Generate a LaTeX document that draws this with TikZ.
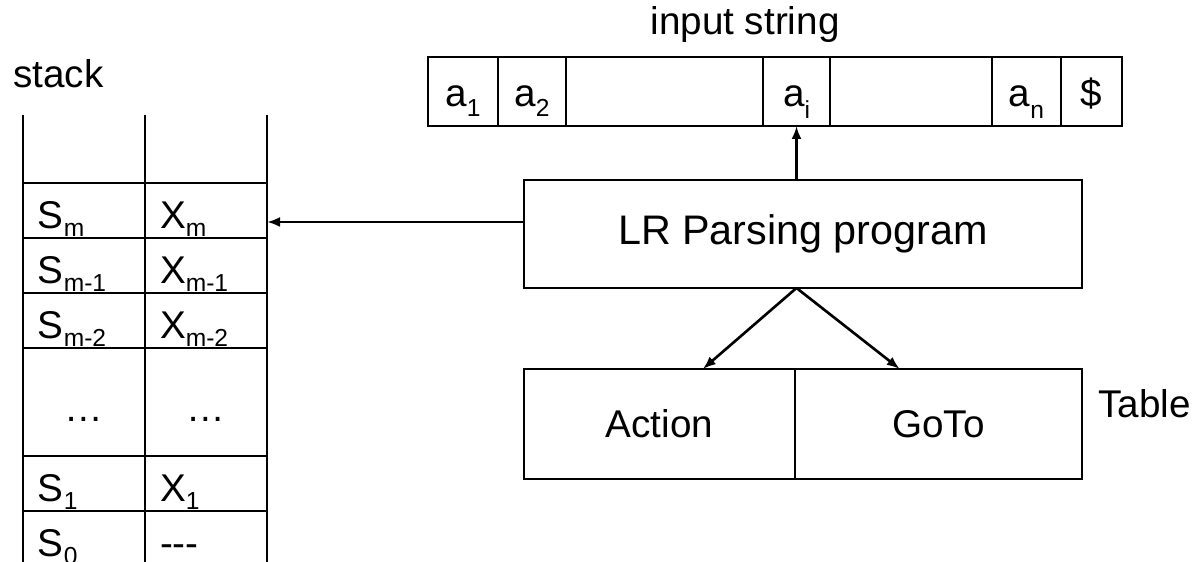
\documentclass[tikz,border=0pt]{standalone}
\usepackage{fontspec}
\setmainfont{Liberation Sans}
\usetikzlibrary{positioning, arrows.meta, calc}

\newcommand\lowsub[2][0.16cm]{\raisebox{-#1}{\fontsize{14}{16}\selectfont #2}}

\tikzset{
  cell/.style={draw, line width=1.5pt, outer sep=0pt, inner sep=0pt, minimum height=1.38cm, text height=0.62cm, text depth=0pt},
  slot/.style={draw, line width=1.5pt, outer sep=0pt, inner xsep=0.3cm, inner ysep=0pt, text width=1.84cm, align=left, minimum height=1.1cm, text height=0.74cm, text depth=0pt},
  box/.style={draw, line width=1.5pt, outer sep=0pt},
  headline/.style={inner sep=0pt},
  link/.style={-{Latex[length=0.26cm, width=0.2cm]}, line width=1.5pt}
}

\begin{document}
\begin{tikzpicture}[font=\fontsize{22}{26}\selectfont]
\useasboundingbox (0,0) rectangle (23.92,11.24);

% stack
\node[headline, anchor=base west] (stk) at (0.26,9.48) {stack};
\node[slot] (sm) at (1.68,7.03) {S\lowsub{m}};
\node[slot, right=0pt of sm] (xm) {X\lowsub{m}};
\node[slot, below=0pt of sm] (sm1) {S\lowsub{m-1}};
\node[slot, right=0pt of sm1] (xm1) {X\lowsub{m-1}};
\node[slot, below=0pt of sm1] (sm2) {S\lowsub{m-2}};
\node[slot, right=0pt of sm2] (xm2) {X\lowsub{m-2}};
\node[slot, below=0pt of sm2, minimum height=2.16cm, text height=0.8cm, align=center] (sd) {\dots};
\node[slot, right=0pt of sd, minimum height=2.16cm, text height=0.8cm, align=center] (xd) {\dots};
\node[slot, below=0pt of sd] (s1) {S\lowsub{1}};
\node[slot, right=0pt of s1] (x1) {X\lowsub{1}};
\node[slot, below=0pt of s1] (s0) {S\lowsub{0}};
\node[slot, right=0pt of s0] (x0) {-{}-{}-};
\draw[line width=1.5pt] (sm.north west) -- ++(0,1.36);
\draw[line width=1.5pt] (sm.north east) -- ++(0,1.36);
\draw[line width=1.5pt] (xm.north east) -- ++(0,1.36);

% input string
\node[headline, anchor=base] (inp) at (14.90,10.54) {input string};
\node[cell, minimum width=1.40cm] (a1) at (9.26,9.41) {a\lowsub[0.2cm]{1}};
\node[cell, minimum width=1.36cm, right=0pt of a1] (a2) {a\lowsub[0.2cm]{2}};
\node[cell, minimum width=3.94cm, right=0pt of a2] (gap1) {};
\node[cell, minimum width=1.34cm, right=0pt of gap1] (ai) {a\lowsub[0.24cm]{i}};
\node[cell, minimum width=3.24cm, right=0pt of ai] (gap2) {};
\node[cell, minimum width=1.38cm, right=0pt of gap2] (an) {a\lowsub[0.24cm]{n}};
\node[cell, minimum width=1.22cm, right=0pt of an] (end) {\$};

% parser
\node[box, minimum width=11.16cm, minimum height=2.16cm, font=\fontsize{23.5}{28}\selectfont] (lr) at (16.06,6.56) {LR Parsing program};
\node[box, minimum width=5.42cm, minimum height=2.2cm] (act) at (13.19,2.76) {Action};
\node[box, minimum width=5.74cm, minimum height=2.2cm, right=0pt of act] (goto) {GoTo};
\node[headline, anchor=base west] (tbl) at (21.96,2.88) {Table};

\draw[link] (lr.north -| ai) -- (ai.south);
\draw[link] ($(lr.west)+(0,0.24)$) coordinate (lrl) -- (lrl -| xm.east);
\draw[link] (lr.south -| ai) -- ($(act.north)!0.32!(act.north east)$);
\draw[link] (lr.south -| ai) -- ($(goto.north west)!0.73!(goto.north)$);
\end{tikzpicture}
\end{document}
